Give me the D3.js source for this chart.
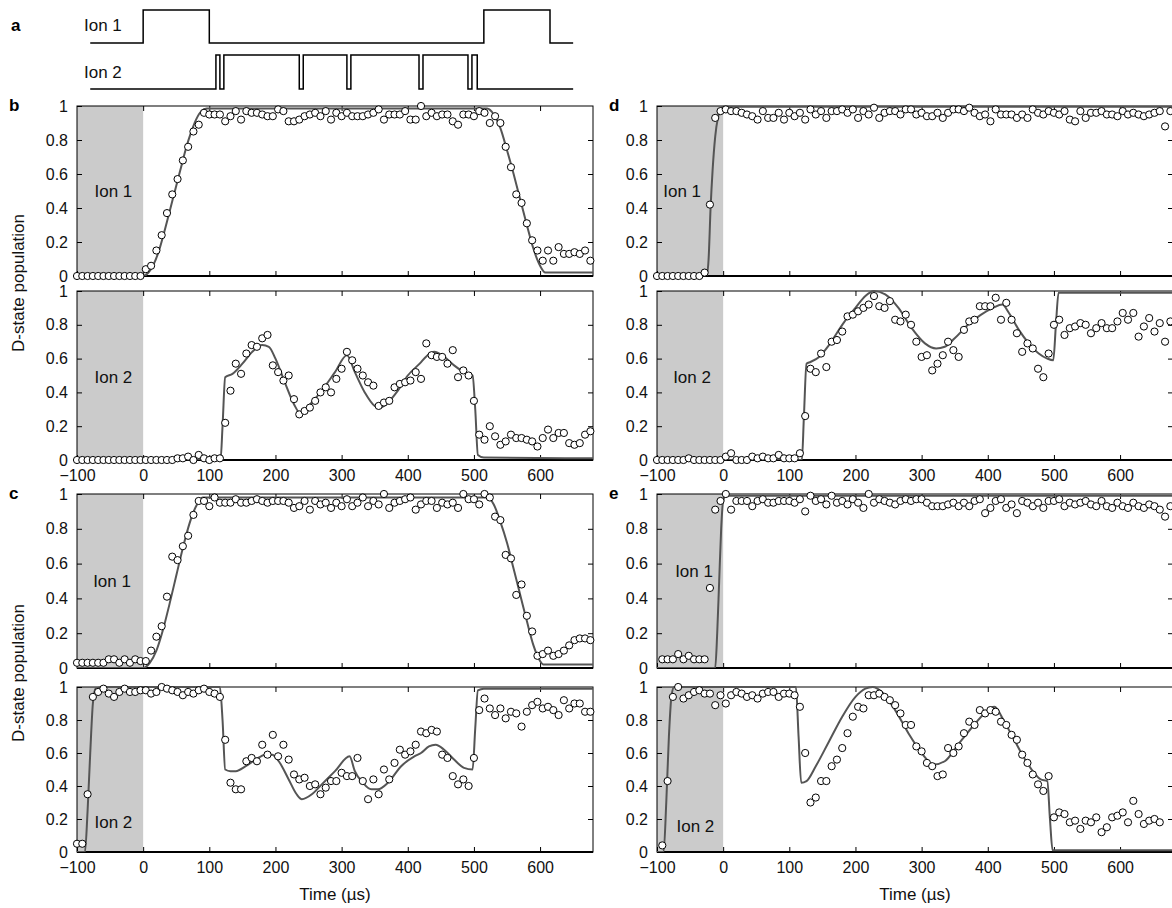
<!DOCTYPE html>
<html>
<head>
<meta charset="utf-8">
<title>D-state population vs time</title>
<style>
    body { margin: 0; background: #fff; }
    text { font-family: "Liberation Sans", Arial, Helvetica, sans-serif; }
</style>
</head>
<body>
<script src="https://d3js.org/d3.v7.min.js"></script>
<script>

    // ---- data (time in us, population 0..1), sampled every 8 us ----
    var step = 8;

    // pulse sequence (panel a): times where the level toggles, first/last = line ends
    var ion1Edges = [-80, 0, 100, 515, 615, 650];
    var ion2Edges = [-80, 110, 116, 122, 236, 242, 308, 314, 417, 423, 491, 497, 505, 650];

    // b
    var bStart = -100;
    var bIon1 = [0,0,0,0,0,0,0,0,0,0,0,0,0,
        0.04,0.06,0.15,0.24,0.37,0.48,0.57,0.68,0.76,0.85,0.89,0.96,0.95,
        0.95,0.95,0.91,0.94,0.97,0.92,0.97,0.96,0.96,0.95,0.94,0.94,0.98,0.97,
        0.91,0.91,0.92,0.94,0.95,0.96,0.94,0.97,0.92,0.96,0.94,0.96,0.94,0.94,0.94,
        0.95,0.96,0.98,0.92,0.95,0.95,0.95,0.97,0.92,0.92,1.0,0.94,0.96,0.94,0.95,0.95,0.91,0.89,0.95,0.95,0.94,
        0.97,0.96,0.90,0.94,0.90,0.76,0.64,0.48,0.43,0.31,0.21,0.15,0.09,0.15,0.09,0.17,0.13,0.13,0.14,0.13,0.15,0.09];
    var bIon2 = [0,0,0,0,0,0,0,0,0,0,0,0,0,0,0,0,0,0,0,
        0.01,0.01,0.02,0,0.03,0.01,0,0.01,0.01,
        0.22,0.41,0.57,0.51,0.63,0.68,0.67,0.72,0.74,0.56,
        0.52,0.47,0.5,0.36,0.27,0.29,0.31,0.35,0.4,0.43,
        0.4,0.48,0.54,0.64,0.59,0.54,0.5,0.46,0.44,0.32,
        0.34,0.35,0.43,0.45,0.46,0.47,0.52,0.48,0.69,0.62,
        0.61,0.61,0.57,0.65,0.49,0.53,0.5,0.35,0.15,0.12,
        0.2,0.14,0.09,0.11,0.15,0.13,0.13,0.12,0.11,0.08,
        0.13,0.18,0.13,0.16,0.16,0.1,0.09,0.1,0.15,0.17];
    var bFit1 = [[-100,0],[0,0],[8,0.02],[16,0.07],[24,0.15],[32,0.26],[40,0.38],[48,0.5],[56,0.62],[64,0.74],
        [72,0.84],[80,0.92],[88,0.97],[96,0.985],[520,0.985],[530,0.95],[540,0.87],[550,0.74],[560,0.6],
        [570,0.45],[580,0.3],[590,0.16],[600,0.06],[608,0.02],[680,0.02]];
    var bFit2 = [[-100,0],[117,0],[120,0.2],[124,0.49],[135,0.51],[150,0.57],[165,0.64],[180,0.68],[190,0.67],
        [200,0.6],[215,0.45],[228,0.33],[237,0.28],[250,0.32],[270,0.41],[290,0.52],[308,0.62],[320,0.52],
        [335,0.4],[350,0.32],[358,0.31],[370,0.34],[385,0.41],[400,0.5],[418,0.57],[430,0.62],[440,0.64],
        [455,0.61],[470,0.56],[485,0.52],[498,0.5],[502,0.3],[506,0.03],[515,0.015],[680,0.01]];

    // c
    var cStart = -100;
    var cIon1 = [0.03,0.03,0.03,0.03,0.03,0.03,0.05,0.05,0.03,0.05,0.03,0.05,0.04,
        0.04,0.1,0.18,0.24,0.41,0.64,0.62,0.7,0.76,0.88,0.96,0.96,0.93,
        0.98,0.95,0.95,0.95,0.97,0.95,0.95,0.96,0.97,0.96,0.95,0.96,0.96,0.96,
        0.95,0.92,0.93,0.96,0.91,0.96,0.94,0.95,0.92,0.95,0.93,0.97,0.93,0.95,0.98,
        0.93,0.96,0.94,1.0,0.92,0.95,0.96,0.97,0.98,0.91,0.94,0.96,0.96,0.92,0.95,0.94,0.95,0.92,1.0,0.97,0.97,
        0.94,1.0,0.98,0.87,0.85,0.65,0.63,0.42,0.48,0.3,0.21,0.07,0.08,0.1,0.07,0.08,0.1,0.13,0.16,0.17,0.17,0.16];
    var cIon2 = [0.05,0.05,0.35,0.94,0.97,0.99,0.96,0.94,0.97,0.99,0.97,0.97,0.98,
        0.98,0.96,0.97,1.0,0.99,0.98,0.97,0.95,0.97,0.96,0.98,0.99,0.97,
        0.96,0.94,0.68,0.42,0.38,0.38,0.55,0.57,0.55,0.65,0.59,0.71,0.58,0.65,
        0.56,0.47,0.44,0.45,0.4,0.41,0.35,0.39,0.43,0.43,0.48,0.46,0.46,0.57,0.43,
        0.32,0.44,0.35,0.5,0.44,0.54,0.62,0.59,0.61,0.65,0.73,0.72,0.74,0.73,0.59,0.57,0.46,0.41,0.44,0.4,0.57,
        0.86,0.93,0.87,0.83,0.87,0.81,0.85,0.84,0.76,0.85,0.89,0.91,0.87,0.88,0.86,0.83,0.92,0.87,0.9,0.9,0.85,0.85];
    var cFit1 = [[-100,0],[0,0],[10,0.03],[20,0.1],[30,0.22],[40,0.37],[50,0.53],[60,0.69],[70,0.83],[80,0.93],
        [90,0.98],[520,0.98],[530,0.94],[540,0.84],[550,0.72],[560,0.57],[570,0.42],[580,0.27],[590,0.13],
        [600,0.04],[605,0.02],[680,0.02]];
    var cFit2 = [[-100,0],[-88,0],[-84,0.25],[-80,0.6],[-76,0.9],[-72,0.99],[-60,1.0],[116,1.0],[120,0.8],
        [124,0.5],[132,0.49],[140,0.49],[155,0.52],[170,0.56],[185,0.59],[195,0.59],[205,0.55],[220,0.44],
        [232,0.35],[240,0.32],[255,0.35],[270,0.41],[290,0.49],[312,0.58],[320,0.49],[332,0.42],[345,0.38],
        [355,0.38],[370,0.42],[390,0.52],[410,0.58],[420,0.6],[432,0.64],[442,0.65],[455,0.62],[470,0.56],
        [485,0.51],[498,0.5],[502,0.75],[506,0.98],[515,0.99],[680,0.99]];

    // d
    var dStart = -100;
    var dIon1 = [0,0,0,0,0,0,0,0,0,0.02,0.42,0.93,0.97,
        0.98,0.97,0.97,0.96,0.95,0.94,0.92,0.97,0.93,0.93,0.96,0.92,0.96,
        0.94,0.96,0.92,0.98,0.95,0.97,0.93,0.97,0.97,0.98,0.96,0.98,0.93,0.97,
        0.95,0.99,0.93,0.96,0.97,0.97,0.95,0.98,0.98,0.95,0.96,0.94,0.94,0.96,0.93,
        0.96,0.98,0.98,0.97,0.99,0.96,0.94,0.95,0.91,0.98,0.95,0.95,0.95,0.93,0.95,0.93,0.98,0.96,0.95,0.97,0.96,
        0.95,0.97,0.92,0.91,0.97,0.93,0.96,0.96,0.97,0.95,0.95,0.94,0.97,0.95,0.96,0.95,0.94,0.95,0.96,0.97,0.88,0.97];
    var dIon2 = [0,0,0,0,0,0,0.01,0,0,0,0,0,0,
        0.02,0.04,0,0,0,0.02,0.01,0.02,0.01,0.01,0.03,0.01,0.01,0.01,0.04,
        0.26,0.54,0.52,0.63,0.55,0.7,0.71,0.76,0.85,0.86,
        0.88,0.9,0.92,0.97,0.91,0.9,0.94,0.83,0.82,0.86,
        0.8,0.7,0.61,0.62,0.53,0.57,0.62,0.7,0.65,0.61,
        0.77,0.82,0.83,0.91,0.91,0.91,0.96,0.83,0.93,0.83,
        0.75,0.64,0.69,0.66,0.54,0.49,0.63,0.8,0.83,0.74,
        0.78,0.79,0.81,0.8,0.75,0.78,0.81,0.78,0.78,0.82,
        0.87,0.83,0.87,0.73,0.79,0.84,0.76,0.81,0.7,0.82];
    var dFit1 = [[-100,0],[-25,0],[-22,0.1],[-19,0.4],[-16,0.62],[-12,0.82],[-8,0.93],[-4,0.98],[0,0.995],[680,0.995]];
    var dFit2 = [[-100,0],[119,0],[122,0.25],[126,0.57],[132,0.58],[145,0.61],[160,0.68],[180,0.8],[200,0.9],
        [215,0.97],[228,1.0],[245,0.98],[265,0.9],[285,0.78],[305,0.69],[322,0.66],[335,0.67],[350,0.72],
        [370,0.8],[390,0.86],[408,0.9],[422,0.92],[432,0.87],[447,0.77],[462,0.69],[477,0.63],[490,0.6],
        [499,0.59],[503,0.8],[507,0.99],[680,0.99]];

    // e
    var eStart = -92;
    var eIon1 = [0.05,0.05,0.05,0.08,0.05,0.07,0.05,0.05,0.05,0.46,0.91,0.96,
        1.0,0.91,0.96,0.96,0.96,0.93,0.96,0.97,0.95,0.95,0.96,0.96,0.96,
        0.95,0.97,0.9,0.99,0.96,0.97,0.94,0.99,0.95,0.96,0.94,0.97,0.95,0.92,
        1.0,0.95,0.97,0.96,0.95,0.94,0.96,0.97,0.96,0.97,0.97,0.95,0.93,0.93,0.93,
        0.94,0.95,0.93,0.95,0.93,0.96,0.97,0.89,0.92,0.96,0.97,0.92,0.94,0.89,0.96,0.95,0.93,0.95,0.92,0.96,0.96,
        0.97,0.93,0.95,0.94,0.95,0.96,0.94,0.93,0.96,0.93,0.92,0.95,0.93,0.92,0.95,0.93,0.92,0.94,0.93,0.91,0.87,0.93];
    var eIon2 = [0.04,0.43,0.94,1.0,0.93,0.95,0.97,0.98,0.96,0.96,0.89,0.95,
        0.9,0.95,0.97,0.96,0.94,0.95,0.93,0.96,0.97,0.97,0.94,0.96,0.96,
        0.95,0.88,0.6,0.3,0.33,0.43,0.43,0.52,0.56,0.63,0.72,0.82,0.88,0.87,
        0.95,0.95,0.96,0.94,0.92,0.89,0.84,0.77,0.77,0.64,0.61,0.54,0.52,0.46,0.47,
        0.63,0.6,0.64,0.72,0.79,0.77,0.86,0.84,0.86,0.85,0.79,0.77,0.71,0.68,0.59,0.54,0.47,0.41,0.37,0.46,0.21,
        0.24,0.23,0.18,0.19,0.14,0.19,0.18,0.21,0.12,0.15,0.21,0.22,0.24,0.18,0.31,0.23,0.17,0.19,0.2,0.18];
    var eFit1 = [[-100,0],[-12,0],[-9,0.2],[-6,0.5],[-3,0.8],[0,0.96],[4,0.99],[680,0.99]];
    var eFit2 = [[-100,0],[-90,0],[-86,0.3],[-82,0.7],[-78,0.95],[-74,1.0],[110,1.0],[114,0.7],[118,0.42],
        [126,0.43],[140,0.52],[160,0.67],[180,0.82],[200,0.94],[215,0.99],[226,1.0],[240,0.97],[260,0.86],
        [280,0.72],[300,0.6],[318,0.53],[335,0.55],[355,0.65],[375,0.75],[395,0.84],[410,0.88],[425,0.79],
        [440,0.68],[455,0.57],[470,0.48],[480,0.44],[490,0.43],[494,0.2],[498,0.01],[680,0.01]];

    var xTicks = [-100, 0, 100, 200, 300, 400, 500, 600];
    var yTicks = [0, 0.2, 0.4, 0.6, 0.8, 1];

    // ---- layout ----
    var width = 1172, height = 908;
    var cols = [{x0: 77, x1: 593}, {x0: 657, x1: 1173}];
    var rows = [{top: 106, bottom: 276}, {top: 291, bottom: 460}, {top: 494, bottom: 668}, {top: 687, bottom: 852}];
    var fontSize = 17, tickFont = 16;

    var svg = d3.select('body').append('svg')
        .attr('width', width)
        .attr('height', height);

    var panels = [
        {col: 0, row: 0, start: bStart, vals: bIon1, fit: bFit1, label: 'Ion 1', lt: -45, lv: 0.5, letter: 'b'},
        {col: 0, row: 1, start: bStart, vals: bIon2, fit: bFit2, label: 'Ion 2', lt: -45, lv: 0.49, xlab: true},
        {col: 0, row: 2, start: cStart, vals: cIon1, fit: cFit1, label: 'Ion 1', lt: -47, lv: 0.5, letter: 'c'},
        {col: 0, row: 3, start: cStart, vals: cIon2, fit: cFit2, label: 'Ion 2', lt: -45, lv: 0.18, xlab: true},
        {col: 1, row: 0, start: dStart, vals: dIon1, fit: dFit1, label: 'Ion 1', lt: -62, lv: 0.5, letter: 'd'},
        {col: 1, row: 1, start: dStart, vals: dIon2, fit: dFit2, label: 'Ion 2', lt: -47, lv: 0.49, xlab: true},
        {col: 1, row: 2, start: eStart, vals: eIon1, fit: eFit1, label: 'Ion 1', lt: -44, lv: 0.56, letter: 'e'},
        {col: 1, row: 3, start: eStart, vals: eIon2, fit: eFit2, label: 'Ion 2', lt: -42, lv: 0.16, xlab: true}
    ];

    function yFmt(d) { return d === 0 ? '0' : d === 1 ? '1' : d3.format('.1f')(d); }

    function styleAxis(g) {
        g.select('.domain').remove();
        g.selectAll('line').attr('stroke', '#000');
        g.selectAll('text').attr('font-size', tickFont).attr('fill', '#111')
            .attr('font-family', '"Liberation Sans", Arial, sans-serif');
    }

    panels.forEach(function (p, k) {
        var c = cols[p.col], r = rows[p.row];
        var x = d3.scaleLinear().domain([-100, 680]).range([c.x0, c.x1]);
        var y = d3.scaleLinear().domain([0, 1]).range([r.bottom, r.top]);
        var g = svg.append('g');

        svg.append('clipPath').attr('id', 'clip' + k)
            .append('rect')
            .attr('x', c.x0).attr('y', r.top - 1)
            .attr('width', c.x1 - c.x0).attr('height', r.bottom - r.top + 1);

        // shaded window
        g.append('rect')
            .attr('x', x(-100)).attr('y', y(1))
            .attr('width', x(0) - x(-100)).attr('height', y(0) - y(1))
            .attr('fill', '#cbcbcb');

        g.append('text')
            .attr('x', x(p.lt)).attr('y', y(p.lv))
            .attr('text-anchor', 'middle').attr('dy', '0.35em')
            .attr('font-size', fontSize).attr('fill', '#111')
            .text(p.label);

        // axes, ticks pointing inwards
        g.append('g').attr('transform', 'translate(0,' + r.bottom + ')')
            .call(d3.axisBottom(x).tickValues(xTicks).tickSizeInner(-5).tickSizeOuter(0).tickPadding(10)
                .tickFormat(p.xlab ? d3.format('') : function () { return ''; }))
            .call(styleAxis);
        g.append('g').attr('transform', 'translate(0,' + r.top + ')')
            .call(d3.axisTop(x).tickValues(xTicks.slice(1)).tickSizeInner(-5).tickSizeOuter(0)
                .tickFormat(function () { return ''; }))
            .call(styleAxis);
        g.append('g').attr('transform', 'translate(' + c.x0 + ',0)')
            .call(d3.axisLeft(y).tickValues(yTicks).tickSizeInner(-5).tickSizeOuter(0).tickPadding(9).tickFormat(yFmt))
            .call(styleAxis);
        g.append('g').attr('transform', 'translate(' + c.x1 + ',0)')
            .call(d3.axisRight(y).tickValues(yTicks.slice(1, 5)).tickSizeInner(-5).tickSizeOuter(0)
                .tickFormat(function () { return ''; }))
            .call(styleAxis);

        // frame
        g.append('rect')
            .attr('x', c.x0).attr('y', r.top)
            .attr('width', c.x1 - c.x0).attr('height', r.bottom - r.top)
            .attr('fill', 'none').attr('stroke', '#000').attr('stroke-width', 1);
        g.append('line')
            .attr('x1', c.x0).attr('x2', c.x1)
            .attr('y1', r.bottom).attr('y2', r.bottom)
            .attr('stroke', '#000').attr('stroke-width', 2);

        // model curve
        var line = d3.line()
            .x(function (d) { return x(d[0]); })
            .y(function (d) { return y(d[1]); })
            .curve(d3.curveMonotoneX);
        g.append('path')
            .datum(p.fit)
            .attr('clip-path', 'url(#clip' + k + ')')
            .attr('d', line)
            .attr('fill', 'none')
            .attr('stroke', '#555')
            .attr('stroke-width', 2);

        // measured points
        g.selectAll('circle')
            .data(p.vals)
            .enter().append('circle')
            .attr('cx', function (d, i) { return x(p.start + i * step); })
            .attr('cy', function (d) { return y(d); })
            .attr('r', 3.6)
            .attr('fill', '#fff')
            .attr('stroke', '#000')
            .attr('stroke-width', 1);

        if (p.letter) {
            svg.append('text')
                .attr('x', p.col === 0 ? 9 : 609).attr('y', r.top + 5)
                .attr('font-size', 17).attr('font-weight', 'bold')
                .text(p.letter);
        }
    });

    // axis titles
    [0, 1].forEach(function (ci) {
        var c = cols[ci];
        svg.append('text')
            .attr('x', (c.x0 + c.x1) / 2).attr('y', 900)
            .attr('text-anchor', 'middle').attr('font-size', fontSize).attr('fill', '#111')
            .text('Time (\u00b5s)');
    });
    [[rows[0], rows[1]], [rows[2], rows[3]]].forEach(function (pair) {
        var cy = (pair[0].top + pair[1].bottom) / 2;
        svg.append('text')
            .attr('transform', 'translate(24,' + cy + ') rotate(-90)')
            .attr('text-anchor', 'middle').attr('font-size', fontSize).attr('fill', '#111')
            .text('D-state population');
    });

    // ---- panel a: pulse sequence ----
    var xa = d3.scaleLinear().domain([-100, 680]).range([cols[0].x0, cols[0].x1]);
    function pulsePath(edges, low, high) {
        var pts = [[xa(edges[0]), low]], level = low;
        for (var i = 1; i < edges.length; i++) {
            pts.push([xa(edges[i]), level]);
            if (i < edges.length - 1) {
                level = level === low ? high : low;
                pts.push([xa(edges[i]), level]);
            }
        }
        return d3.line()(pts);
    }
    svg.append('path').attr('d', pulsePath(ion1Edges, 43, 10))
        .attr('fill', 'none').attr('stroke', '#000').attr('stroke-width', 1.5);
    svg.append('path').attr('d', pulsePath(ion2Edges, 89, 55))
        .attr('fill', 'none').attr('stroke', '#000').attr('stroke-width', 1.5);
    svg.append('text').attr('x', 84).attr('y', 31).attr('font-size', fontSize).attr('fill', '#111').text('Ion 1');
    svg.append('text').attr('x', 84).attr('y', 78).attr('font-size', fontSize).attr('fill', '#111').text('Ion 2');
    svg.append('text').attr('x', 11).attr('y', 31).attr('font-size', 17).attr('font-weight', 'bold').text('a');

</script>
</body>
</html>
